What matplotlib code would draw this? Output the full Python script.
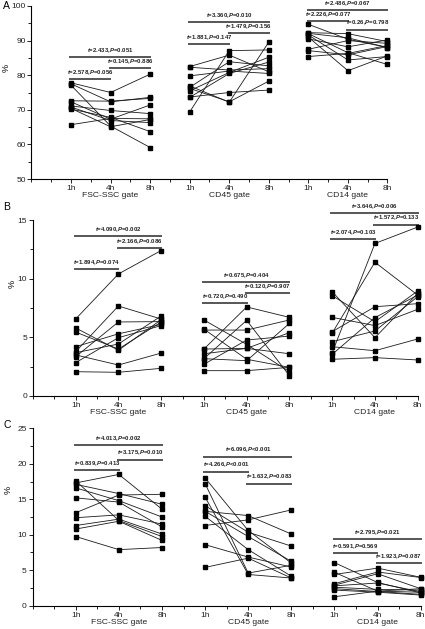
import matplotlib
matplotlib.use("Agg")
import matplotlib.pyplot as plt
from matplotlib.ticker import MultipleLocator
import matplotlib.transforms as mtransforms

plt.rcParams['font.family'] = ['Liberation Sans', 'DejaVu Sans']
plt.rcParams['mathtext.fontset'] = 'custom'
plt.rcParams['mathtext.it'] = 'Liberation Sans:italic:bold'
plt.rcParams['mathtext.rm'] = 'Liberation Sans:bold'

times = ['1h', '4h', '8h']
gates = ['FSC-SSC gate', 'CD45 gate', 'CD14 gate']

# ---------- Panel A (values per subject: 1h, 4h, 8h) ----------
A_fsc = [[77.8, 75.0, 80.3], [77.5, 72.3, 73.6], [77.1, 65.3, 59.1], [72.6, 72.5, 73.3],
         [72.3, 67.3, 71.4], [71.1, 69.8, 68.9], [70.8, 66.9, 66.3], [70.4, 65.1, 67.2],
         [70.2, 67.8, 63.7], [65.7, 67.5, 67.4]]
A_cd45 = [[69.4, 87.1, 87.3], [82.5, 85.8, 81.0], [79.8, 81.2, 80.5], [76.9, 72.2, 89.6],
          [76.5, 83.9, 82.7], [75.5, 80.8, 85.2], [73.7, 75.0, 75.7], [76.2, 72.3, 78.3],
          [73.6, 80.5, 83.8], [82.3, 81.5, 81.9]]
A_cd14 = [[94.7, 90.4, 88.0], [92.3, 92.0, 89.7], [92.0, 86.5, 83.1], [91.6, 84.4, 85.4],
          [91.0, 81.3, 85.6], [90.5, 88.2, 90.2], [87.5, 90.0, 89.2], [87.1, 85.9, 88.3],
          [85.4, 86.3, 88.6], [92.1, 90.8, 88.0]]

# ---------- Panel B ----------
B_fsc = [[6.56, 10.4, 12.4], [5.80, 3.90, 6.5], [5.45, 4.0, 6.3], [4.20, 5.3, 6.1],
         [3.78, 7.67, 6.56], [3.69, 4.43, 6.82], [3.35, 6.31, 6.34], [2.84, 4.97, 6.0],
         [3.5, 2.64, 3.66], [2.07, 2.02, 2.36]]
B_cd45 = [[6.48, 4.4, 2.07], [5.62, 5.62, 6.48], [5.7, 3.13, 2.44], [4.0, 7.59, 6.70],
          [3.6, 4.06, 5.40], [3.18, 6.45, 1.73], [2.70, 4.77, 5.11], [3.18, 3.01, 6.19],
          [2.16, 2.16, 2.44], [4.0, 4.06, 3.6]]
B_cd14 = [[3.69, 13.0, 14.4], [5.37, 11.4, 8.6], [8.89, 4.97, 8.75], [8.55, 6.33, 8.95],
          [6.70, 6.0, 7.39], [5.48, 7.61, 7.87], [4.63, 5.54, 8.47], [3.55, 6.68, 8.6],
          [4.2, 3.86, 4.86], [3.13, 3.27, 3.07]]

# ---------- Panel C ----------
C_fsc = [[17.3, 18.5, 13.6], [17.6, 12.0, 9.75], [17.1, 15.8, 14.3], [16.6, 14.8, 12.5],
         [15.2, 14.6, 11.1], [13.1, 15.6, 15.7], [12.4, 12.8, 11.5], [11.3, 12.2, 10.1],
         [10.8, 11.9, 9.2], [9.75, 7.9, 8.2]]
C_cd45 = [[5.4, 6.7, 3.9], [11.3, 12.1, 13.5], [18.0, 10.6, 6.0], [17.2, 4.6, 5.7],
          [15.3, 4.4, 3.9], [14.1, 10.35, 8.4], [13.3, 12.7, 10.1], [13.3, 9.75, 6.25],
          [12.6, 7.9, 4.15], [8.6, 6.85, 5.45]]
C_cd14 = [[6.07, 3.27, 1.8], [4.7, 2.05, 1.9], [4.4, 5.3, 4.0], [3.1, 4.75, 3.97],
          [2.9, 4.5, 2.4], [2.6, 2.3, 2.2], [2.4, 2.0, 1.6], [2.2, 1.9, 1.5],
          [1.26, 2.05, 2.4], [2.8, 3.2, 1.96]]

# ---------- Comparison brackets: (gate, from, to, bar level, t, P) ----------
A_tests = [(0, 0, 2, 85.3, '2.433', '=0.051'), (0, 1, 2, 82.0, '0.145', '=0.886'),
           (0, 0, 1, 78.9, '2.578', '=0.056'),
           (1, 0, 2, 95.3, '3.360', '=0.010'), (1, 1, 2, 92.1, '1.479', '=0.156'),
           (1, 0, 1, 89.0, '1.881', '=0.147'),
           (2, 0, 2, 98.75, '2.486', '=0.067'), (2, 0, 1, 95.7, '2.226', '=0.077'),
           (2, 1, 2, 93.2, '0.26', '=0.798')]
B_tests = [(0, 0, 2, 13.6, '4.090', '=0.002'), (0, 1, 2, 12.6, '2.166', '=0.086'),
           (0, 0, 1, 10.8, '1.894', '=0.074'),
           (1, 0, 2, 9.7, '0.675', '=0.404'), (1, 1, 2, 8.8, '0.120', '=0.907'),
           (1, 0, 1, 7.9, '0.720', '=0.490'),
           (2, 0, 2, 15.6, '3.646', '=0.006'), (2, 1, 2, 14.6, '1.572', '=0.133'),
           (2, 0, 1, 13.4, '2.074', '=0.103')]
C_tests = [(0, 0, 2, 22.6, '4.013', '=0.002'), (0, 1, 2, 20.6, '3.175', '=0.010'),
           (0, 0, 1, 19.1, '0.839', '=0.413'),
           (1, 0, 2, 21.0, '6.096', '<0.001'), (1, 0, 1, 18.9, '4.266', '<0.001'),
           (1, 1, 2, 17.2, '1.632', '=0.083'),
           (2, 0, 2, 9.4, '2.795', '=0.021'), (2, 0, 1, 7.4, '0.591', '=0.569'),
           (2, 1, 2, 6.0, '1.923', '=0.087')]

A_ylim, A_major, A_minor = (50, 100), 10, 5
B_ylim, B_major, B_minor = (0, 15), 5, 2.5
C_ylim, C_major, C_minor = (0, 25), 5, 2.5

W, H = 425, 629
fig = plt.figure(figsize=(W / 100, H / 100), dpi=100)


def px_axes(left, right, top, bottom):
    return fig.add_axes([left / W, 1 - bottom / H, (right - left) / W, (bottom - top) / H])


def draw_panel(ax, groups, tests, ylim, major, minor):
    for gi, grp in enumerate(groups):
        xs = [gi * 3 + 1 + k for k in range(3)]
        for subj in grp:
            ax.plot(xs, subj, color='#1a1a1a', lw=0.6, marker='s', ms=2.3,
                    mfc='black', mec='black', clip_on=False, zorder=3)
    for gi, i0, i1, yb, tval, pval in tests:
        x0 = gi * 3 + 1 + i0 - 0.04
        x1 = gi * 3 + 1 + i1 + 0.02
        ax.plot([x0, x1], [yb, yb], color='#3a3a3a', lw=1.2, clip_on=False,
                solid_capstyle='butt', zorder=2)
        ax.annotate(r'$t$=' + tval + r',$P$' + pval, xy=((x0 + x1) / 2, yb),
                    xytext=(0, 1.6), textcoords='offset points', ha='center',
                    va='bottom', fontsize=4.3, fontweight='bold', color='#222222',
                    annotation_clip=False)
    ax.set_xlim(0, 9)
    ax.set_ylim(*ylim)
    ax.set_xticks(range(1, 10))
    ax.set_xticklabels(times * 3)
    ax.xaxis.set_minor_locator(MultipleLocator(0.5))
    ax.yaxis.set_major_locator(MultipleLocator(major))
    ax.yaxis.set_minor_locator(MultipleLocator(minor))
    for s in ('top', 'right'):
        ax.spines[s].set_visible(False)
    for s in ('left', 'bottom'):
        ax.spines[s].set_linewidth(0.8)
    ax.tick_params(axis='both', which='major', direction='out', length=3, width=0.7,
                   labelsize=6, pad=1.2, colors='#222222')
    ax.tick_params(axis='both', which='minor', direction='out', length=2, width=0.6)
    trans = mtransforms.blended_transform_factory(ax.transData, ax.transAxes)
    for gi, g in enumerate(gates):
        ax.annotate(g, xy=(gi * 3 + 2, 0), xycoords=trans, xytext=(0, -9.6),
                    textcoords='offset points', ha='center', va='top', fontsize=6.1,
                    color='#222222')


axA = px_axes(31.5, 387.5, 6, 179)
draw_panel(axA, [A_fsc, A_cd45, A_cd14], A_tests, A_ylim, A_major, A_minor)
axB = px_axes(32.9, 417.7, 220, 396)
draw_panel(axB, [B_fsc, B_cd45, B_cd14], B_tests, B_ylim, B_major, B_minor)
axC = px_axes(32.6, 420.7, 428.3, 605.7)
draw_panel(axC, [C_fsc, C_cd45, C_cd14], C_tests, C_ylim, C_major, C_minor)

fig.text(3 / W, 1 - 6 / H, 'A', fontsize=7.5, ha='left', va='center')
fig.text(3 / W, 1 - 207 / H, 'B', fontsize=7.5, ha='left', va='center')
fig.text(3 / W, 1 - 425 / H, 'C', fontsize=7.5, ha='left', va='center')
fig.text(6 / W, 1 - 68 / H, '%', fontsize=6.5, rotation=90, ha='center', va='center')
fig.text(12 / W, 1 - 284 / H, '%', fontsize=6.5, rotation=90, ha='center', va='center')
fig.text(8 / W, 1 - 490 / H, '%', fontsize=6.5, rotation=90, ha='center', va='center')

fig.savefig('out.png', dpi=100)
